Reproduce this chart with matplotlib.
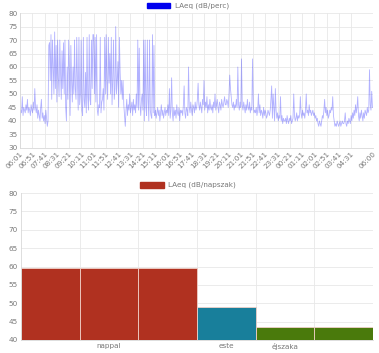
import numpy as np
import matplotlib
matplotlib.use('Agg')
import matplotlib.pyplot as plt
from matplotlib.patches import Rectangle

# 3-minute samples, one list per hour starting at 06:01
h06 = [41, 44, 43, 49, 42, 45, 44, 43, 46, 44, 48, 43, 45, 44, 42, 46, 44, 43, 47, 44]
h07 = [52, 45, 43, 46, 41, 44, 42, 40, 45, 48, 41, 43, 40, 42, 39, 44, 41, 38, 40, 68]
h08 = [69, 55, 72, 48, 70, 60, 50, 73, 52, 68, 47, 70, 56, 49, 70, 58, 48, 66, 52, 69]
h09 = [50, 70, 45, 40, 60, 48, 70, 58, 42, 68, 55, 47, 60, 50, 70, 52, 48, 71, 55, 44]
h10 = [71, 46, 50, 70, 44, 42, 71, 48, 45, 58, 43, 71, 49, 44, 72, 48, 46, 70, 52, 72]
h11 = [72, 50, 71, 47, 72, 44, 42, 46, 45, 71, 43, 47, 48, 52, 44, 71, 50, 72, 55, 48]
h12 = [71, 54, 65, 50, 71, 46, 55, 70, 48, 52, 75, 50, 55, 62, 45, 71, 58, 50, 55, 48]
h13 = [55, 46, 42, 38, 44, 48, 42, 46, 44, 50, 43, 45, 47, 42, 48, 44, 46, 43, 50, 45]
h14 = [70, 44, 67, 46, 42, 48, 50, 44, 70, 40, 70, 45, 42, 70, 48, 40, 70, 44, 42, 41]
h15 = [72, 43, 68, 42, 44, 41, 43, 45, 42, 44, 40, 43, 46, 42, 44, 41, 43, 45, 42, 44]
h16 = [43, 46, 42, 52, 41, 44, 56, 43, 40, 45, 42, 44, 41, 46, 43, 42, 45, 40, 44, 43]
h17 = [44, 42, 46, 53, 43, 41, 45, 44, 42, 60, 45, 43, 47, 44, 42, 46, 45, 43, 47, 44]
h18 = [45, 48, 54, 46, 44, 47, 45, 43, 48, 46, 55, 44, 47, 45, 49, 43, 46, 44, 48, 45]
h19 = [44, 46, 43, 47, 45, 50, 44, 46, 48, 45, 43, 47, 46, 44, 48, 46, 45, 47, 49, 46]
h20 = [46, 48, 47, 45, 50, 57, 52, 49, 46, 45, 47, 44, 46, 45, 48, 45, 60, 46, 44, 47]
h21 = [45, 63, 46, 44, 47, 45, 43, 46, 44, 48, 45, 44, 47, 43, 45, 44, 63, 46, 43, 44]
h22 = [43, 45, 42, 44, 50, 43, 46, 42, 44, 43, 41, 45, 42, 44, 43, 41, 42, 44, 43, 42]
h23 = [44, 48, 53, 41, 50, 45, 40, 52, 44, 41, 43, 40, 42, 41, 49, 40, 42, 39, 41, 40]
h00 = [40, 41, 39, 42, 40, 39, 41, 40, 42, 39, 40, 41, 50, 42, 40, 41, 43, 40, 42, 41]
h01 = [42, 49, 43, 41, 44, 42, 43, 41, 44, 50, 43, 44, 42, 46, 43, 44, 42, 43, 44, 42]
h02 = [43, 41, 42, 40, 41, 39, 38, 40, 39, 38, 40, 42, 41, 44, 48, 43, 45, 42, 44, 41]
h03 = [42, 44, 43, 45, 44, 49, 42, 40, 38, 39, 38, 40, 39, 38, 39, 40, 38, 39, 40, 39]
h04 = [39, 40, 43, 39, 38, 40, 39, 41, 40, 39, 42, 40, 43, 41, 44, 42, 46, 43, 45, 49]
h05 = [42, 40, 43, 41, 44, 42, 40, 43, 41, 44, 43, 42, 45, 43, 44, 59, 46, 44, 51, 45]

hours = [h06, h07, h08, h09, h10, h11, h12, h13, h14, h15, h16, h17,
         h18, h19, h20, h21, h22, h23, h00, h01, h02, h03, h04, h05]

tick_labels = ['06:01', '06:51', '07:41', '08:31', '09:21', '10:11', '11:01', '11:51',
               '12:41', '13:31', '14:21', '15:11', '16:01', '16:51', '17:41', '18:31',
               '19:21', '20:11', '21:01', '21:51', '22:41', '23:31', '00:21', '01:11',
               '02:01', '02:51', '03:41', '04:31', '06:00']

bar_labels = ['', 'nappal', '', 'este', 'éjszaka', '']
bar_values = [59.5, 59.5, 59.5, 49, 43.5, 43.5]
bar_colors = ['#b03120', '#b03120', '#b03120', '#187f9b', '#4a7a0c', '#4a7a0c']

laeq = np.concatenate(hours)
minutes = np.arange(len(laeq)) * 3

grid_c = '#e8e8e8'
txt_c = '#777777'
fs = 5.2

fig = plt.figure(figsize=(3.79, 3.53), dpi=100)

# top: per-minute line
ax1 = fig.add_axes([0.053, 0.581, 0.931, 0.382])
ax1.plot(minutes, laeq, color='#0000ff', alpha=0.3, lw=0.6)
ax1.set_xlim(0, 1439)
ax1.set_ylim(30, 80)
ax1.set_yticks(range(30, 81, 5))
ticks = list(range(0, 1351, 50)) + [1439]
ax1.set_xticks(ticks)
ax1.set_xticklabels(tick_labels, rotation=45, ha='right', rotation_mode='anchor')

# bottom: period bars
ax2 = fig.add_axes([0.055, 0.037, 0.929, 0.416])
x = np.arange(len(bar_values))
ax2.bar(x, np.array(bar_values) - 40, bottom=40, width=1.0, color=bar_colors,
        edgecolor='#f0d0c8', linewidth=0.6)
ax2.set_xlim(-0.5, 5.5)
ax2.set_ylim(40, 80)
ax2.set_yticks(range(40, 81, 5))
ax2.set_xticks([i for i in x if bar_labels[i]])
ax2.set_xticklabels([l for l in bar_labels if l])
ax2.set_xticks(np.arange(0.5, 5.5, 1), minor=True)
ax2.grid(True, which='minor', axis='x', color=grid_c, lw=0.6)

for ax in (ax1, ax2):
    ax.set_axisbelow(True)
    ax.grid(True, axis='y', color=grid_c, lw=0.6)
    ax.tick_params(labelsize=fs, colors=txt_c, length=0, pad=2)
    ax.tick_params(which='minor', length=0)
    for s in ax.spines.values():
        s.set_visible(False)
    ax.spines['left'].set_visible(True)
    ax.spines['bottom'].set_visible(True)
    ax.spines['left'].set_color('#d8d8d8')
    ax.spines['bottom'].set_color('#d8d8d8')
    ax.spines['left'].set_linewidth(0.6)
    ax.spines['bottom'].set_linewidth(0.6)
ax1.grid(True, axis='x', color=grid_c, lw=0.6)

# legends
W, H = 379, 353
fig.add_artist(Rectangle((147 / W, 1 - 8 / H), 23 / W, 5 / H, transform=fig.transFigure,
                         color='#0000ee'))
fig.text(175 / W, 1 - 5.5 / H, 'LAeq (dB/perc)', fontsize=fs, color=txt_c, va='center')
fig.add_artist(Rectangle((140 / W, 1 - 188 / H), 24 / W, 6 / H, transform=fig.transFigure,
                         color='#b03120'))
fig.text(168 / W, 1 - 185 / H, 'LAeq (dB/napszak)', fontsize=fs, color=txt_c, va='center')

fig.savefig('out.png', dpi=100)
